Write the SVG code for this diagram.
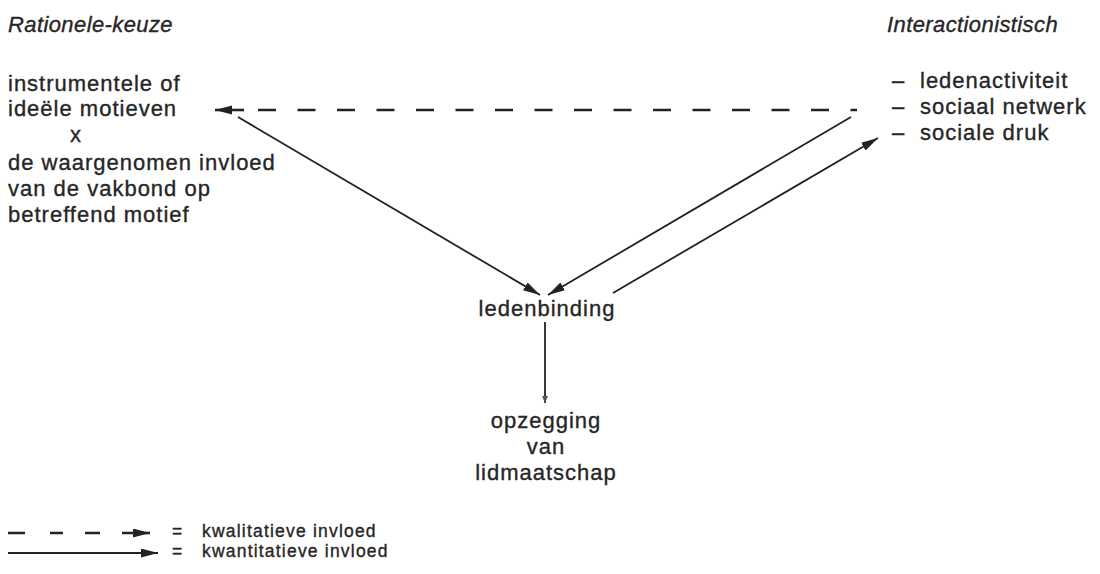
<svg xmlns="http://www.w3.org/2000/svg" width="1100" height="574" viewBox="0 0 1100 574">
<defs>
<style>
text{font-family:"Liberation Sans",Arial,sans-serif;fill:#262626;stroke:#262626;stroke-width:0.35}
.t{font-size:22px;font-style:italic;letter-spacing:0.4px}
.b{font-size:22px;letter-spacing:1px}
.l{font-size:17.5px;letter-spacing:1.2px}
.ln{stroke:#222;stroke-width:1.8;fill:none}
.ds{stroke:#222;stroke-width:2.6;fill:none}
</style>
<marker id="ah" markerUnits="userSpaceOnUse" markerWidth="18" markerHeight="10" refX="17" refY="4.5" orient="auto">
<path d="M0,0 L17,4.5 L0,9 z" fill="#222"/>
</marker>
<marker id="ahs" markerUnits="userSpaceOnUse" markerWidth="8" markerHeight="6" refX="7" refY="3" orient="auto">
<path d="M0,0 L7,3 L0,6 z" fill="#555"/>
</marker>
</defs>
<rect width="1100" height="574" fill="#fff"/>
<g id="title-left"><text class="t" x="8" y="32">Rationele-keuze</text></g>
<g id="title-right"><text class="t" x="887" y="32">Interactionistisch</text></g>
<g id="node-rational">
<text class="b" x="8" y="91">instrumentele of</text>
<text class="b" x="8" y="116">ideële motieven</text>
<text class="b" x="70" y="142">x</text>
<text class="b" x="8" y="170">de waargenomen invloed</text>
<text class="b" x="8" y="196">van de vakbond op</text>
<text class="b" x="8" y="222">betreffend motief</text>
</g>
<g id="node-interaction">
<text class="b" x="892" y="88">–</text><text class="b" x="920" y="88">ledenactiviteit</text>
<text class="b" x="892" y="114">–</text><text class="b" x="920" y="114">sociaal netwerk</text>
<text class="b" x="892" y="140">–</text><text class="b" x="920" y="140">sociale druk</text>
</g>
<g id="node-ledenbinding"><text class="b" x="547" y="316" text-anchor="middle">ledenbinding</text></g>
<g id="node-opzegging">
<text class="b" x="546" y="428" text-anchor="middle">opzegging</text>
<text class="b" x="546" y="454" text-anchor="middle">van</text>
<text class="b" x="546" y="480" text-anchor="middle">lidmaatschap</text>
</g>
<g id="connectors">
<line class="ds" x1="258" y1="110" x2="857" y2="110" stroke-dasharray="18 21.5"/>
<line class="ds" x1="244" y1="110" x2="215" y2="110" marker-end="url(#ah)"/>
<line class="ln" x1="238" y1="117" x2="540" y2="295" marker-end="url(#ah)"/>
<line class="ln" x1="851" y1="117" x2="548" y2="295" marker-end="url(#ah)"/>
<line class="ln" x1="613" y1="293" x2="878" y2="138" marker-end="url(#ah)"/>
<line class="ln" x1="545" y1="322" x2="545" y2="403" marker-end="url(#ahs)"/>
</g>
<g id="legend">
<line class="ds" x1="8" y1="533" x2="137" y2="533" stroke-dasharray="17 25 13 22 15 22 11 4"/>
<line class="ds" x1="137" y1="533" x2="150" y2="533" marker-end="url(#ah)"/>
<text class="l" x="172" y="537">=</text>
<text class="l" x="202" y="537">kwalitatieve invloed</text>
<line class="ln" x1="8" y1="553" x2="158" y2="553" marker-end="url(#ah)"/>
<text class="l" x="172" y="557">=</text>
<text class="l" x="202" y="557">kwantitatieve invloed</text>
</g>
</svg>
